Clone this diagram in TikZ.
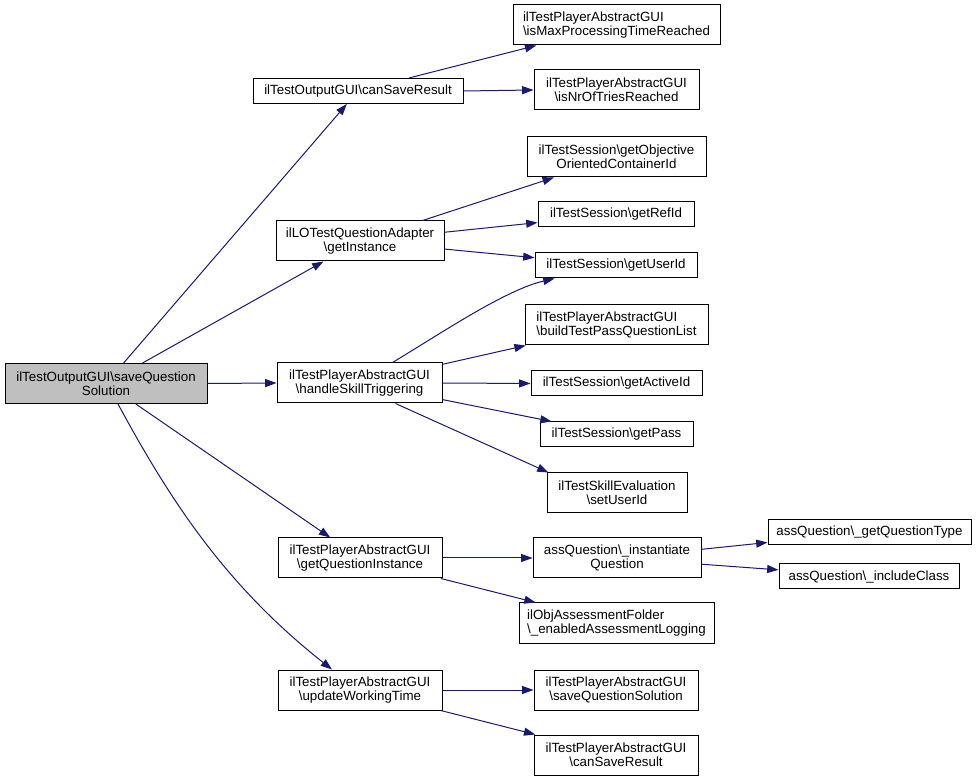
\documentclass[tikz,border=0pt]{standalone}
\usepackage{fontspec}
\setmainfont{Liberation Sans}
\usetikzlibrary{arrows.meta,calc}
\definecolor{edgecol}{HTML}{191970}
\definecolor{rootfill}{HTML}{BFBFBF}
\newcommand{\bs}{\textbackslash}
\begin{document}
\begin{tikzpicture}[x=0.75pt,y=-0.75pt,
  box/.style={draw=black, line width=0.75pt, rectangle, inner sep=0pt, align=center,
    font=\fontsize{10}{10.5}\selectfont, text=black},
  sbox/.style={box, minimum height=18.75pt},
  dbox/.style={box, minimum height=30pt},
  wd/.style={minimum width=#1*0.75pt},
  link/.style={draw=edgecol, line width=0.75pt, -{Triangle[length=8.5pt,width=6pt]}}]
\useasboundingbox (0,0) rectangle (979,780);

% nodes
\node[dbox, wd=202, fill=rootfill] (main) at (106,383.5) {ilTestOutputGUI\bs saveQuestion\\Solution};
\node[sbox, wd=210] (cansave) at (358,91) {ilTestOutputGUI\bs canSaveResult};
\node[dbox, wd=207, align=left] (maxproc) at (616.5,25) {ilTestPlayerAbstractGUI\\\bs isMaxProcessingTimeReached};
\node[dbox, wd=165] (nrtries) at (616.5,90) {ilTestPlayerAbstractGUI\\\bs isNrOfTriesReached};
\node[dbox, wd=179] (objcont) at (616.5,157) {ilTestSession\bs getObjective\\OrientedContainerId};
\node[sbox, wd=156] (refid) at (616,214.5) {ilTestSession\bs getRefId};
\node[sbox, wd=162] (userid) at (616,265.5) {ilTestSession\bs getUserId};
\node[dbox, wd=168] (getinst) at (360,241) {ilLOTestQuestionAdapter\\\bs getInstance};
\node[dbox, wd=165] (handle) at (359.5,383) {ilTestPlayerAbstractGUI\\\bs handleSkillTriggering};
\node[dbox, wd=183, align=left] (build) at (616.5,325) {ilTestPlayerAbstractGUI\\\bs buildTestPassQuestionList};
\node[sbox, wd=171] (activeid) at (616.5,383.5) {ilTestSession\bs getActiveId};
\node[sbox, wd=153] (pass) at (616.5,434.5) {ilTestSession\bs getPass};
\node[dbox, wd=140] (setuser) at (617,493) {ilTestSkillEvaluation\\\bs setUserId};
\node[dbox, wd=164] (getqi) at (360,558) {ilTestPlayerAbstractGUI\\\bs getQuestionInstance};
\node[dbox, wd=168] (instq) at (617,558) {assQuestion\bs\_instantiate\\Question};
\node[dbox, wd=195, align=left] (enlog) at (616.5,623) {ilObjAssessmentFolder\\\bs\_enabledAssessmentLogging};
\node[sbox, wd=203] (gettype) at (869.5,532) {assQuestion\bs\_getQuestionType};
\node[sbox, wd=180] (incl) at (869,576.5) {assQuestion\bs\_includeClass};
\node[dbox, wd=164] (updwt) at (360,690) {ilTestPlayerAbstractGUI\\\bs updateWorkingTime};
\node[dbox, wd=164] (savesol) at (616,690) {ilTestPlayerAbstractGUI\\\bs saveQuestionSolution};
\node[dbox, wd=164] (cansave2) at (616,755) {ilTestPlayerAbstractGUI\\\bs canSaveResult};

% edges
\draw[link] (main) -- (cansave);
\draw[link] (main) -- (getinst);
\draw[link] (main.east) -- (handle.west);
\draw[link] (main) -- (getqi);
\draw[link] ($(main.south)+(12,0)$) .. controls (170,500) and (225,585) .. ($(updwt.north)+(-28,0)$);
\draw[link] (cansave) -- (maxproc);
\draw[link] (cansave.east) -- (nrtries.west);
\draw[link] (getinst) -- (objcont);
\draw[link] (getinst) -- (refid);
\draw[link] (getinst) -- (userid);
\draw[link] ($(handle.north)+(33,0)$) .. controls (440,334) and (505,290) .. ($(userid.south west)+(20,0)$);
\draw[link] (handle) -- (build);
\draw[link] (handle.east) -- (activeid.west);
\draw[link] (handle) -- (pass);
\draw[link] ($(handle.south)+(36,0)$) -- ($(setuser.north west)+(2,0)$);
\draw[link] (getqi.east) -- (instq.west);
\draw[link] (getqi) -- (enlog);
\draw[link] (instq) -- (gettype);
\draw[link] (instq) -- (incl);
\draw[link] (updwt.east) -- (savesol.west);
\draw[link] (updwt) -- (cansave2);
\end{tikzpicture}
\end{document}
